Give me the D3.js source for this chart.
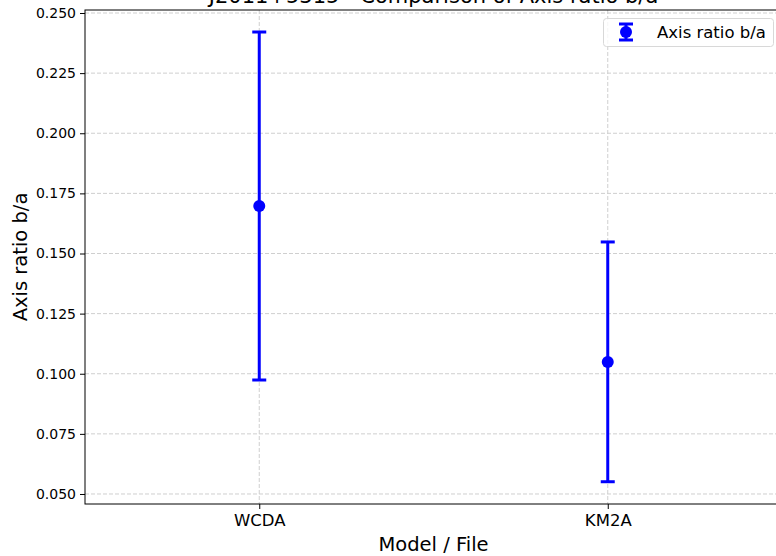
<!DOCTYPE html>
<html>
<head>
<meta charset="utf-8">
<script src="https://cdn.jsdelivr.net/npm/d3@7/dist/d3.min.js"></script>
<style>
  html, body { margin: 0; padding: 0; background: #fff; }
  svg { display: block; font-family: "DejaVu Sans", sans-serif; }
</style>
</head>
<body>
<svg id="chart" width="776" height="556"></svg>
<script>
const categories = ["WCDA", "KM2A"];
const values = [0.1698, 0.1049];
const upper = [0.2421, 0.1548];
const lower = [0.0974, 0.0551];
const yTicks = [0.050, 0.075, 0.100, 0.125, 0.150, 0.175, 0.200, 0.225, 0.250];
const title = "J2011+5315 - Comparison of Axis ratio b/a";
const xLabel = "Model / File";
const yLabel = "Axis ratio b/a";
const legendLabel = "Axis ratio b/a";

const svg = d3.select("#chart");
const m = { left: 85, right: 782, top: 10, bottom: 504 };
const blue = "#0000ff";

const x = d3.scalePoint().domain(categories).range([m.left, m.right]).padding(0.5);
const y = d3.scaleLinear().domain([0.04584, 0.25125]).range([m.bottom, m.top]);

// grid
const grid = svg.append("g");
grid.selectAll("line.h").data(yTicks).join("line")
  .attr("x1", m.left).attr("x2", m.right)
  .attr("y1", d => y(d)).attr("y2", d => y(d))
  .attr("stroke", "#cfcfcf").attr("stroke-width", 1).attr("stroke-dasharray", "4,2");
grid.selectAll("line.v").data(categories).join("line")
  .attr("x1", d => x(d)).attr("x2", d => x(d))
  .attr("y1", m.top).attr("y2", m.bottom)
  .attr("stroke", "#cfcfcf").attr("stroke-width", 1).attr("stroke-dasharray", "4,2");

// axes
const yAxis = d3.axisLeft(y).tickValues(yTicks).tickFormat(d3.format(".3f")).tickSize(5).tickPadding(4);
const gy = svg.append("g").attr("transform", `translate(${m.left},0)`).call(yAxis);
gy.select(".domain").remove();
gy.selectAll("text").attr("font-size", "14px").attr("fill", "#000").attr("font-family", "DejaVu Sans");
gy.selectAll("line").attr("stroke", "#000");

const xAxis = d3.axisBottom(x).tickSize(5).tickPadding(5);
const gx = svg.append("g").attr("transform", `translate(0,${m.bottom})`).call(xAxis);
gx.select(".domain").remove();
gx.selectAll("text").attr("font-size", "16.5px").attr("fill", "#000").attr("font-family", "DejaVu Sans");
gx.selectAll("line").attr("stroke", "#000");

// spines
svg.append("rect").attr("x", m.left).attr("y", m.top)
  .attr("width", m.right - m.left).attr("height", m.bottom - m.top)
  .attr("fill", "none").attr("stroke", "#000").attr("stroke-width", 1);

// error bars
const data = categories.map((c, i) => ({ c, v: values[i], hi: upper[i], lo: lower[i] }));
const eb = svg.append("g");
eb.selectAll("line.bar").data(data).join("line")
  .attr("x1", d => x(d.c)).attr("x2", d => x(d.c))
  .attr("y1", d => y(d.lo)).attr("y2", d => y(d.hi))
  .attr("stroke", blue).attr("stroke-width", 3);
eb.selectAll("line.capH").data(data).join("line")
  .attr("x1", d => x(d.c) - 7).attr("x2", d => x(d.c) + 7)
  .attr("y1", d => y(d.hi)).attr("y2", d => y(d.hi))
  .attr("stroke", blue).attr("stroke-width", 3);
eb.selectAll("line.capL").data(data).join("line")
  .attr("x1", d => x(d.c) - 7).attr("x2", d => x(d.c) + 7)
  .attr("y1", d => y(d.lo)).attr("y2", d => y(d.lo))
  .attr("stroke", blue).attr("stroke-width", 3);
eb.selectAll("circle").data(data).join("circle")
  .attr("cx", d => x(d.c)).attr("cy", d => y(d.v)).attr("r", 6)
  .attr("fill", blue);

// labels
svg.append("text").attr("x", (m.left + m.right) / 2).attr("y", 3)
  .attr("text-anchor", "middle").attr("font-size", "21px").text(title);
svg.append("text").attr("x", (m.left + m.right) / 2).attr("y", 551)
  .attr("text-anchor", "middle").attr("font-size", "19.5px").text(xLabel);
svg.append("text").attr("transform", `translate(27,${(m.top + m.bottom) / 2}) rotate(-90)`)
  .attr("text-anchor", "middle").attr("font-size", "19.5px").text(yLabel);

// legend
const lg = svg.append("g");
lg.append("rect").attr("x", 603.5).attr("y", 18.5).attr("width", 170).attr("height", 28)
  .attr("rx", 3).attr("fill", "#fff").attr("fill-opacity", 0.8)
  .attr("stroke", "#d8d8d8").attr("stroke-width", 1);
const lx = 626, ly = 32;
lg.append("line").attr("x1", lx).attr("x2", lx).attr("y1", ly - 8).attr("y2", ly + 8)
  .attr("stroke", blue).attr("stroke-width", 3);
lg.append("line").attr("x1", lx - 7).attr("x2", lx + 7).attr("y1", ly - 8).attr("y2", ly - 8)
  .attr("stroke", blue).attr("stroke-width", 3);
lg.append("line").attr("x1", lx - 7).attr("x2", lx + 7).attr("y1", ly + 8).attr("y2", ly + 8)
  .attr("stroke", blue).attr("stroke-width", 3);
lg.append("circle").attr("cx", lx).attr("cy", ly).attr("r", 6).attr("fill", blue);
lg.append("text").attr("x", 657).attr("y", 38).attr("font-size", "16.5px").text(legendLabel);
</script>
</body>
</html>
